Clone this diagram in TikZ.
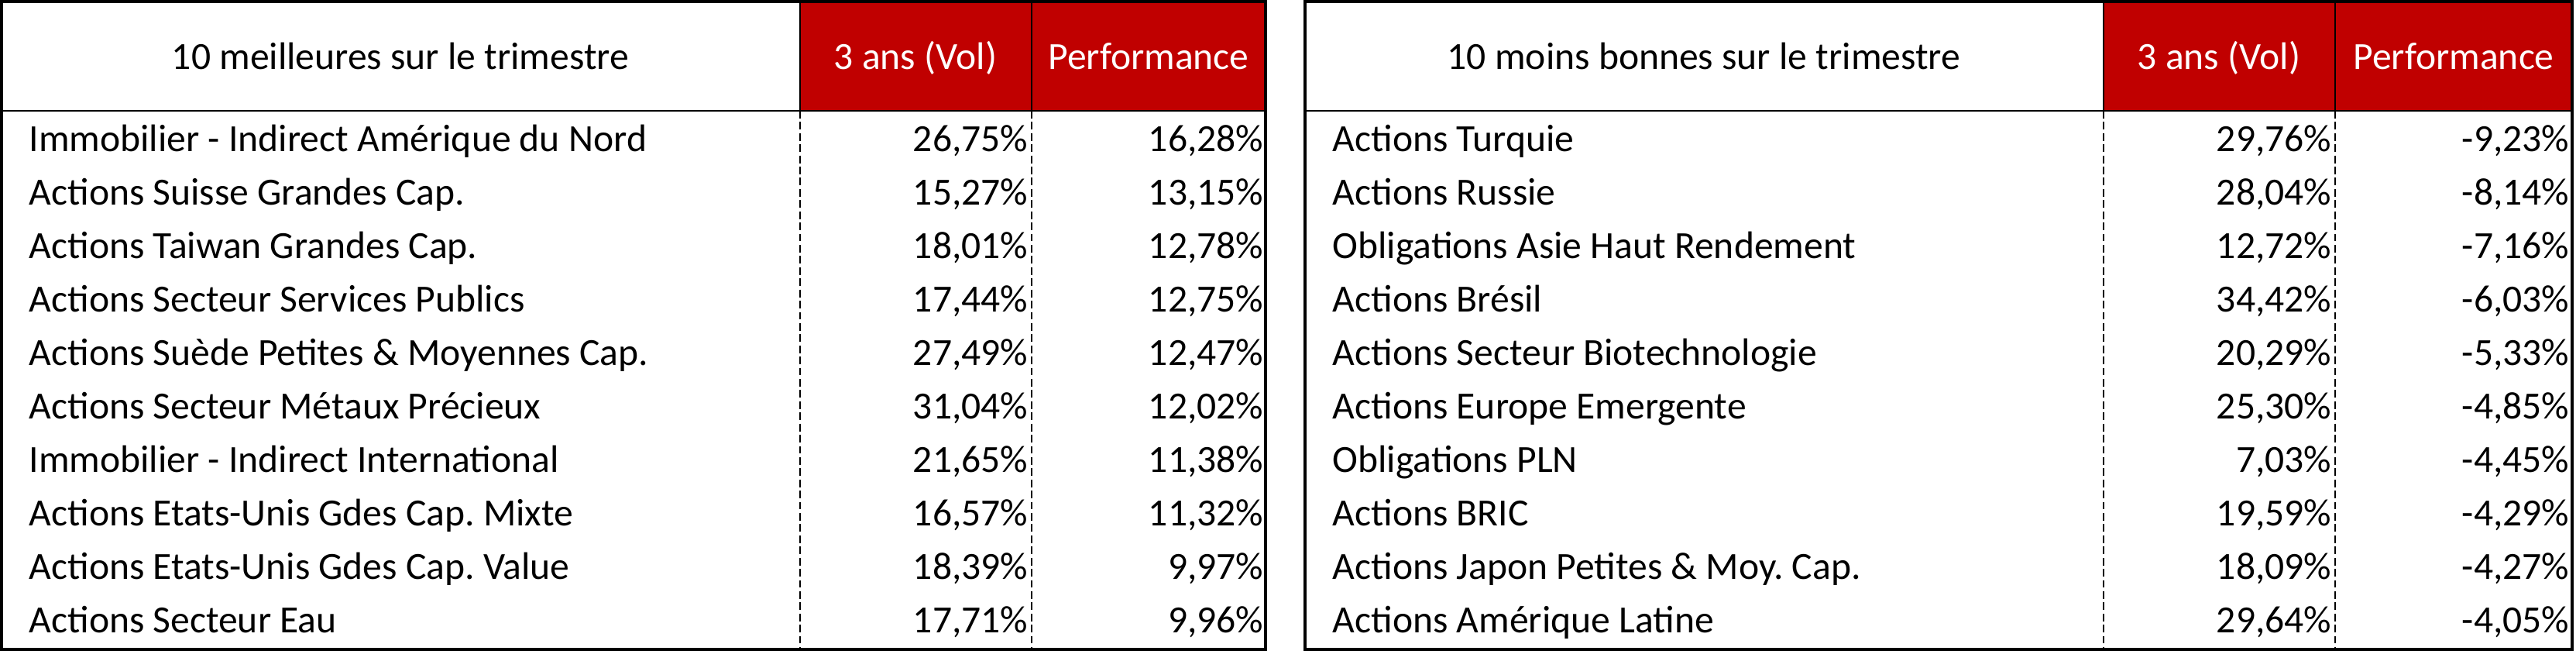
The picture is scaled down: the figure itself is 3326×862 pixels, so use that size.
\documentclass[tikz,border=0pt]{standalone}
\usepackage{fontspec}
\setmainfont{Carlito}
\frenchspacing
\definecolor{hdrred}{HTML}{C00000}
\newcommand\tabrow[8]{%
  \pgfmathsetmacro\yb{196+69*#2}%
  \node[cell, anchor=base west] (#1n#2) at (#3,\yb) {#6};
  \node[cell, anchor=base east] (#1v#2) at (#4,\yb) {#7};
  \node[cell, anchor=base east] (#1p#2) at (#5,\yb) {#8};
}
\begin{document}
\begin{tikzpicture}[x=0.01cm,y=-0.01cm,
  cell/.style={inner sep=0pt, font=\fontsize{14.1}{17}\selectfont\frenchspacing},
  hdrw/.style={cell, anchor=base, text=white},
  hdrb/.style={cell, anchor=base, text=black},
  outer/.style={line width=1.15pt},
  thin/.style={line width=0.45pt},
  dsh/.style={line width=0.45pt, dash pattern=on 2.8pt off 1.3pt}]
\useasboundingbox (0,0) rectangle (3326,862);
% ---------- left table ----------
\fill[hdrred] (1033,2) rectangle (1634,143);
\draw[thin] (2,143) -- (1634,143);
\draw[thin] (1033,2) -- (1033,143);
\draw[thin] (1332,2) -- (1332,143);
\draw[dsh] (1033,143) -- (1033,838);
\draw[dsh] (1332,143) -- (1332,838);
\draw[outer] (2,2) rectangle (1634,838);
\node[hdrb] (lh1) at (517,90) {10 meilleures sur le trimestre};
\node[hdrw] (lh2) at (1182,90) {3 ans (Vol)};
\node[hdrw] (lh3) at (1483,90) {Performance};
\tabrow{l}{0}{37}{1328}{1632}{Immobilier - Indirect Amérique du Nord}{26,75\%}{16,28\%}
\tabrow{l}{1}{37}{1328}{1632}{Actions Suisse Grandes Cap.}{15,27\%}{13,15\%}
\tabrow{l}{2}{37}{1328}{1632}{Actions Taiwan Grandes Cap.}{18,01\%}{12,78\%}
\tabrow{l}{3}{37}{1328}{1632}{Actions Secteur Services Publics}{17,44\%}{12,75\%}
\tabrow{l}{4}{37}{1328}{1632}{Actions Suède Petites \& Moyennes Cap.}{27,49\%}{12,47\%}
\tabrow{l}{5}{37}{1328}{1632}{Actions Secteur Métaux Précieux}{31,04\%}{12,02\%}
\tabrow{l}{6}{37}{1328}{1632}{Immobilier - Indirect International}{21,65\%}{11,38\%}
\tabrow{l}{7}{37}{1328}{1632}{Actions Etats-Unis Gdes Cap. Mixte}{16,57\%}{11,32\%}
\tabrow{l}{8}{37}{1328}{1632}{Actions Etats-Unis Gdes Cap. Value}{18,39\%}{9,97\%}
\tabrow{l}{9}{37}{1328}{1632}{Actions Secteur Eau}{17,71\%}{9,96\%}
% ---------- right table ----------
\fill[hdrred] (2716,2) rectangle (3321,143);
\draw[thin] (1685,143) -- (3321,143);
\draw[thin] (2716,2) -- (2716,143);
\draw[thin] (3015,2) -- (3015,143);
\draw[dsh] (2716,143) -- (2716,838);
\draw[dsh] (3015,143) -- (3015,838);
\draw[outer] (1685,2) rectangle (3321,838);
\node[hdrb] (rh1) at (2200,90) {10 moins bonnes sur le trimestre};
\node[hdrw] (rh2) at (2865,90) {3 ans (Vol)};
\node[hdrw] (rh3) at (3168,90) {Performance};
\tabrow{r}{0}{1720}{3011}{3318}{Actions Turquie}{29,76\%}{-9,23\%}
\tabrow{r}{1}{1720}{3011}{3318}{Actions Russie}{28,04\%}{-8,14\%}
\tabrow{r}{2}{1720}{3011}{3318}{Obligations Asie Haut Rendement}{12,72\%}{-7,16\%}
\tabrow{r}{3}{1720}{3011}{3318}{Actions Brésil}{34,42\%}{-6,03\%}
\tabrow{r}{4}{1720}{3011}{3318}{Actions Secteur Biotechnologie}{20,29\%}{-5,33\%}
\tabrow{r}{5}{1720}{3011}{3318}{Actions Europe Emergente}{25,30\%}{-4,85\%}
\tabrow{r}{6}{1720}{3011}{3318}{Obligations PLN}{7,03\%}{-4,45\%}
\tabrow{r}{7}{1720}{3011}{3318}{Actions BRIC}{19,59\%}{-4,29\%}
\tabrow{r}{8}{1720}{3011}{3318}{Actions Japon Petites \& Moy. Cap.}{18,09\%}{-4,27\%}
\tabrow{r}{9}{1720}{3011}{3318}{Actions Amérique Latine}{29,64\%}{-4,05\%}
\end{tikzpicture}
\end{document}
